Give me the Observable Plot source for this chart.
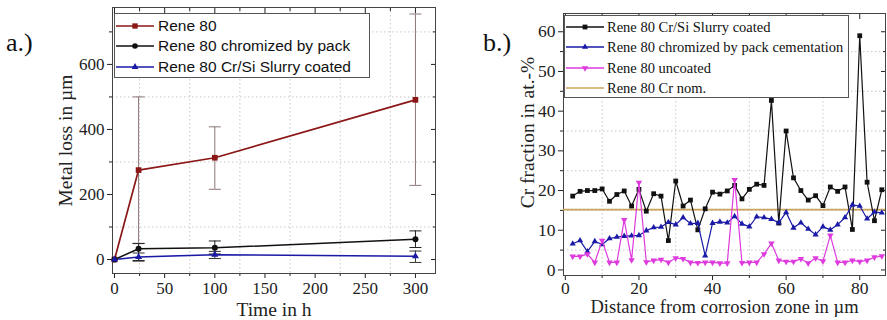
<!DOCTYPE html>
<html><head><meta charset="utf-8">
<script src="https://cdn.jsdelivr.net/npm/d3@7"></script>
<script src="https://cdn.jsdelivr.net/npm/@observablehq/plot@0.6"></script>
<style>
body{margin:0;background:#fff}
#wrap{position:relative;width:887px;height:320px;overflow:hidden;background:#fff}
.abs{position:absolute}
.legend{position:absolute;border:1px solid #555;background:#fff;box-sizing:border-box}
.row{position:absolute;left:0;height:20px;white-space:nowrap;display:flex;align-items:center;color:#111}
.row svg{flex:none}
.plabel{position:absolute;font-family:"Liberation Serif",serif;font-size:26px;line-height:26px;color:#111}
</style></head><body>
<div id="wrap">
  <div id="A" class="abs" style="left:0;top:0"></div>
  <div id="B" class="abs" style="left:445px;top:0"></div>
</div>
<script>
// ---------- Panel a data ----------
const timeH      = [0, 24, 100, 300];
const rene80Loss = [0, 275, 313, 491];
const rene80Lo   = [0, 50, 216, 228];
const rene80Hi   = [0, 500, 408, 755];
const packLoss   = [0, 33, 36, 62];
const packLo     = [0, -3, 17, 37];
const packHi     = [0, 49, 57, 88];
const slurryLoss = [0, 8, 15, 10];
const slurryLo   = [0, -5, 3, -9];
const slurryHi   = [0, 20, 25, 26];
const seriesA = ["Rene 80", "Rene 80 chromized by pack", "Rene 80 Cr/Si Slurry coated"];
const xTicksA = [0, 50, 100, 150, 200, 250, 300];
const xMinorA = [25, 75, 125, 175, 225, 275];
const yTicksA = [0, 200, 400, 600];
const yMinorA = [100, 300, 500, 700];

// ---------- Panel b data ----------
const distUm = [2,4,6,8,10,12,14,16,18,20,22,24,26,28,30,32,34,36,38,40,42,44,46,48,50,52,54,56,58,60,62,64,66,68,70,72,74,76,78,80,82,84,86];
const slurryCr = [18.6,19.8,20.0,20.0,20.4,17.3,19.0,19.9,16.1,20.3,14.8,19.2,18.6,7.4,22.4,16.1,17.6,10.1,15.4,19.6,19.1,19.9,21.3,17.9,20.3,21.6,21.3,42.7,11.8,35.0,23.2,20.0,17.6,18.7,16.2,20.9,19.8,20.9,10.2,59.0,22.1,12.4,20.2];
const packCr   = [6.6,7.4,4.6,7.2,6.4,7.9,8.3,8.5,8.6,8.7,9.9,10.7,10.8,12.0,11.4,13.2,11.7,11.8,3.6,11.8,12.1,11.9,13.5,11.6,10.9,13.4,13.2,12.8,11.9,14.5,10.6,11.9,10.3,8.9,10.9,10.1,11.4,13.2,16.4,16.1,12.9,14.6,14.4];
const uncoatedCr = [3.4,3.4,4.0,1.9,7.4,1.9,1.9,12.6,2.5,22.0,2.0,2.4,2.6,1.9,3.0,2.8,1.9,1.8,1.9,1.9,1.7,1.7,22.7,1.8,1.9,1.9,4.0,6.7,2.4,2.1,2.1,2.8,1.7,3.0,2.2,8.7,1.9,1.9,2.4,2.1,2.4,3.2,3.5];
const crNominal = 15.2;
const seriesB = ["Rene 80 Cr/Si Slurry coated", "Rene 80 chromized by pack cementation", "Rene 80 uncoated", "Rene 80 Cr nom."];
const xTicksB = [0, 20, 40, 60, 80];
const xMinorB = [10, 30, 50, 70];
const yTicksB = [0, 10, 20, 30, 40, 50, 60];
const yMinorB = [5, 15, 25, 35, 45, 55];

// ---------- styling ----------
const RED = "#8b1616", BLK = "#111111", BLU = "#1a1aa6", MAG = "#de3ade", GOLD = "#caa45a";
const GRID = {stroke: "#c8c8c8", strokeDasharray: "1.5,2.5"};
const capSymbol = {draw(ctx, size) { const w = Math.sqrt(size / Math.PI); ctx.moveTo(-w, 0); ctx.lineTo(w, 0); }};
const blank = () => "";

function mkA(vals, lo, hi) { return timeH.map((t, i) => ({t, v: vals[i], lo: lo[i], hi: hi[i]})); }
const tRed = mkA(rene80Loss, rene80Lo, rene80Hi);
const tBlk = mkA(packLoss, packLo, packHi);
const tBlu = mkA(slurryLoss, slurryLo, slurryHi);
const err = (tab) => tab.filter(d => d.hi !== d.lo);

function errMarks(tab, color) {
  const e = err(tab);
  return [
    Plot.ruleX(e, {x: "t", y1: "lo", y2: "hi", stroke: color, strokeWidth: 1}),
    Plot.dot(e, {x: "t", y: "lo", symbol: capSymbol, r: 6, stroke: color, strokeWidth: 1, fill: "none"}),
    Plot.dot(e, {x: "t", y: "hi", symbol: capSymbol, r: 6, stroke: color, strokeWidth: 1, fill: "none"})
  ];
}

const chartA = Plot.plot({
  width: 445, height: 320,
  marginLeft: 112, marginRight: 10, marginTop: 7, marginBottom: 47,
  style: {fontFamily: "Liberation Serif, serif", color: "#222", background: "transparent"},
  x: {domain: [-2, 320], label: null},
  y: {domain: [-43, 775], label: null},
  marks: [
    Plot.ruleX(xMinorA, GRID),
    Plot.ruleY(yMinorA, GRID),
    Plot.axisX({ticks: xTicksA, tickSize: 5, tickPadding: 3, fontSize: 17, label: null}),
    Plot.axisX({ticks: xMinorA, tickSize: 3, tickFormat: blank, label: null}),
    Plot.axisX({anchor: "top", ticks: xTicksA, tickSize: -5, tickFormat: blank, label: null}),
    Plot.axisX({anchor: "top", ticks: xMinorA, tickSize: -3, tickFormat: blank, label: null}),
    Plot.axisY({ticks: yTicksA, tickSize: 5, tickPadding: 3, fontSize: 17, label: null}),
    Plot.axisY({ticks: yMinorA, tickSize: 3, tickFormat: blank, label: null}),
    Plot.axisY({anchor: "right", ticks: yTicksA, tickSize: -5, tickFormat: blank, label: null}),
    Plot.axisY({anchor: "right", ticks: yMinorA, tickSize: -3, tickFormat: blank, label: null}),
    Plot.frame({stroke: "#444"}),
    ...errMarks(tRed, "#8d7676"),
    ...errMarks(tBlk, "#222"),
    ...errMarks(tBlu, "#333"),
    Plot.line(tRed, {x: "t", y: "v", stroke: RED, strokeWidth: 1.7}),
    Plot.line(tBlk, {x: "t", y: "v", stroke: BLK, strokeWidth: 1.5}),
    Plot.line(tBlu, {x: "t", y: "v", stroke: BLU, strokeWidth: 1.5}),
    Plot.dot(tRed, {x: "t", y: "v", symbol: "square", r: 3.2, fill: RED}),
    Plot.dot(tBlk, {x: "t", y: "v", symbol: "circle", r: 3, fill: BLK}),
    Plot.dot(tBlu, {x: "t", y: "v", symbol: "triangle", r: 2.6, fill: BLU}),
    Plot.text(["Time in h"], {frameAnchor: "bottom", dy: 36, text: d => d, fontSize: 19.5, textAnchor: "middle", lineAnchor: "middle", fill: "#222"}),
    Plot.text(["Metal loss in µm"], {frameAnchor: "left", dx: -47, rotate: -90, text: d => d, fontSize: 19.5, textAnchor: "middle", lineAnchor: "middle", fill: "#222"})
  ]
});
document.getElementById("A").append(chartA);

const tbSl = distUm.map((x, i) => ({x, v: slurryCr[i]}));
const tbPk = distUm.map((x, i) => ({x, v: packCr[i]}));
const tbUn = distUm.map((x, i) => ({x, v: uncoatedCr[i]}));

const chartB = Plot.plot({
  width: 442, height: 320,
  marginLeft: 118, marginRight: 2, marginTop: 13, marginBottom: 45,
  style: {fontFamily: "Liberation Serif, serif", color: "#222", background: "transparent"},
  x: {domain: [-0.5, 87], label: null},
  y: {domain: [-1.4, 64.6], label: null},
  marks: [
    Plot.ruleX(xMinorB, GRID),
    Plot.ruleY(yMinorB, GRID),
    Plot.axisX({ticks: xTicksB, tickSize: 5, tickPadding: 1, fontSize: 17.5, label: null}),
    Plot.axisX({ticks: xMinorB, tickSize: 3, tickFormat: blank, label: null}),
    Plot.axisX({anchor: "top", ticks: xTicksB, tickSize: -5, tickFormat: blank, label: null}),
    Plot.axisX({anchor: "top", ticks: xMinorB, tickSize: -3, tickFormat: blank, label: null}),
    Plot.axisY({ticks: yTicksB, tickSize: 5, tickPadding: 3, fontSize: 17.5, label: null}),
    Plot.axisY({ticks: yMinorB, tickSize: 3, tickFormat: blank, label: null}),
    Plot.axisY({anchor: "right", ticks: yTicksB, tickSize: -5, tickFormat: blank, label: null}),
    Plot.axisY({anchor: "right", ticks: yMinorB, tickSize: -3, tickFormat: blank, label: null}),
    Plot.frame({stroke: "#444"}),
    Plot.ruleY([crNominal], {stroke: GOLD, strokeWidth: 1.6}),
    Plot.line(tbSl, {x: "x", y: "v", stroke: BLK, strokeWidth: 1.2}),
    Plot.dot(tbSl, {x: "x", y: "v", symbol: "square", r: 2.7, fill: BLK}),
    Plot.line(tbPk, {x: "x", y: "v", stroke: BLU, strokeWidth: 1.2}),
    Plot.dot(tbPk, {x: "x", y: "v", symbol: "triangle", r: 2.3, fill: BLU}),
    Plot.line(tbUn, {x: "x", y: "v", stroke: MAG, strokeWidth: 1.2}),
    Plot.dot(tbUn, {x: "x", y: "v", symbol: "triangle", rotate: 180, r: 2.4, fill: MAG}),
    Plot.text(["Distance from corrosion zone in µm"], {frameAnchor: "bottom", dy: 32, text: d => d, fontSize: 18.5, textAnchor: "middle", lineAnchor: "middle", fill: "#222"}),
    Plot.text(["Cr fraction in at.-%"], {frameAnchor: "left", dx: -36, dy: -12, rotate: -90, text: d => d, fontSize: 19.5, textAnchor: "middle", lineAnchor: "middle", fill: "#222"})
  ]
});
document.getElementById("B").append(chartB);

// ---------- legends & panel labels ----------
const wrap = d3.select("#wrap");
function legend(box, items, font) {
  const lg = wrap.append("div").attr("class", "legend")
    .style("left", box.left + "px").style("top", box.top + "px")
    .style("width", box.w + "px").style("height", box.h + "px");
  items.forEach((it, i) => {
    const row = lg.append("div").attr("class", "row").style("top", (box.rows[i] - 10) + "px")
      .style("font-family", font.family).style("font-size", font.size + "px");
    const s = row.append("svg").attr("width", box.sw).attr("height", 20);
    s.append("line").attr("x1", 1).attr("x2", box.sw - 1).attr("y1", 10).attr("y2", 10)
      .attr("stroke", it.color).attr("stroke-width", it.lw);
    if (it.symbol) {
      s.append("path").attr("d", d3.symbol(it.symbol, Math.PI * it.r * it.r)())
        .attr("transform", `translate(${box.sw / 2},10) rotate(${it.rot || 0})`).attr("fill", it.color);
    }
    row.append("span").style("margin-left", box.gap + "px").text(it.name);
  });
}
legend({left: 114, top: 13, w: 256, h: 65, rows: [12, 32, 53], sw: 40, gap: 3},
  [{name: seriesA[0], color: RED, lw: 1.5, symbol: d3.symbolSquare, r: 3},
   {name: seriesA[1], color: BLK, lw: 1.5, symbol: d3.symbolCircle, r: 2.8},
   {name: seriesA[2], color: BLU, lw: 1.5, symbol: d3.symbolTriangle, r: 2.5}],
  {family: "Liberation Sans, Arial, sans-serif", size: 15.5});
legend({left: 564, top: 15, w: 285, h: 83, rows: [11, 31, 52, 72], sw: 40, gap: 2},
  [{name: seriesB[0], color: BLK, lw: 1.3, symbol: d3.symbolSquare, r: 2.7},
   {name: seriesB[1], color: BLU, lw: 1.3, symbol: d3.symbolTriangle, r: 2.3},
   {name: seriesB[2], color: MAG, lw: 1.3, symbol: d3.symbolTriangle, r: 2.4, rot: 180},
   {name: seriesB[3], color: GOLD, lw: 1.5}],
  {family: "Liberation Serif, serif", size: 14.5});
wrap.append("div").attr("class", "plabel").style("left", "6px").style("top", "30px").text("a.)");
wrap.append("div").attr("class", "plabel").style("left", "483px").style("top", "30px").text("b.)");
</script>
</body></html>
